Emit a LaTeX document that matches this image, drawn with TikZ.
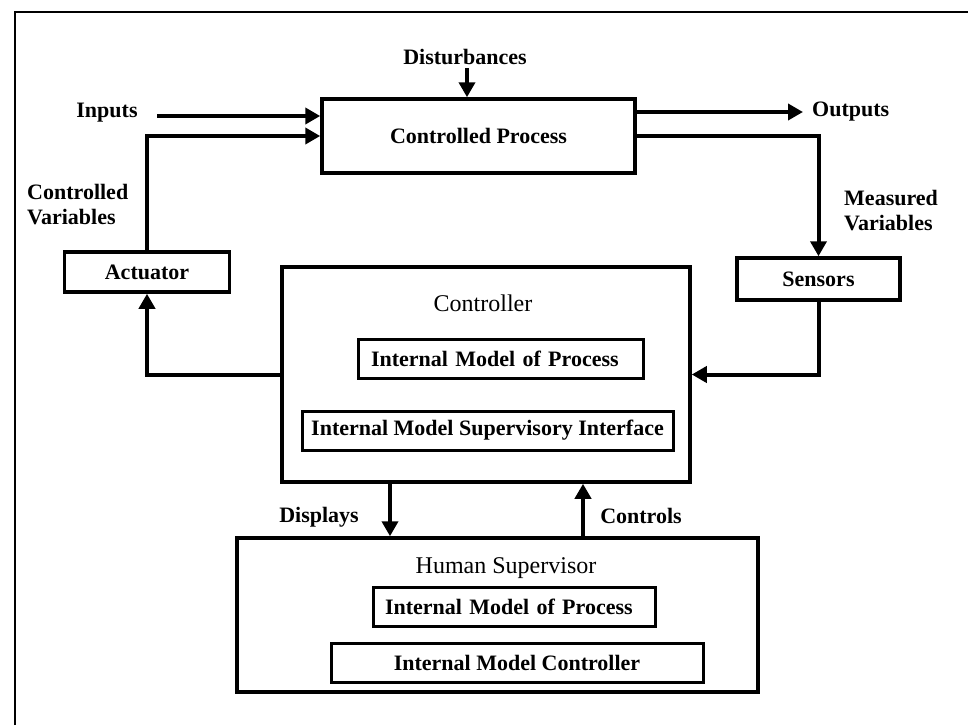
\documentclass[tikz,border=0pt]{standalone}
\usepackage{fontspec}
\setmainfont{Liberation Serif}
\usetikzlibrary{arrows.meta}
\begin{document}
\begin{tikzpicture}[x=1pt,y=-1pt,
  lbl/.style={font=\fontsize{22}{25}\selectfont\bfseries, inner sep=0pt},
  title/.style={font=\fontsize{24}{27}\selectfont, inner sep=0pt},
  blk/.style={draw, line width=3.5pt, inner sep=0pt,
    font=\fontsize{22}{25}\selectfont\bfseries},
  subblk/.style={blk, line width=3pt},
  flow/.style={line width=4pt, -{Triangle[length=15pt,width=16pt]}},
  frame/.style={line width=2.5pt}
]
\useasboundingbox (0,0) rectangle (968,725);

% outer frame (open on the right and bottom)
\draw[frame] (15,725) -- (15,12) -- (968,12);

% process loop
\node[blk, minimum width=313pt, minimum height=74pt] (procbox) at (478.5,136) {Controlled Process};
\node[blk, minimum width=165pt, minimum height=40pt] (actuator) at (147,272) {Actuator};
\node[blk, minimum width=163pt, minimum height=42pt] (sensors) at (818.5,279) {Sensors};

% controller and its internal models
\node[blk, minimum width=408pt, minimum height=215pt] (controller) at (486,374.5) {};
\node[title] (ctrltitle) at (483,303) {Controller};
\node[subblk, minimum width=285pt, minimum height=39pt, align=left, text width=259pt, inner xsep=13pt] (imp1) at (500.5,358.5) {Internal Model of Process};
\node[subblk, minimum width=371pt, minimum height=39pt] (imsi) at (487.5,430.5) {Internal Model Supervisory Interface};

% human supervisor and its internal models
\node[blk, minimum width=521pt, minimum height=154pt] (human) at (497.5,615) {};
\node[title] (humantitle) at (506,568) {Human Supervisor};
\node[subblk, minimum width=282pt, minimum height=39pt, align=left, text width=258pt, inner xsep=12pt] (imp2) at (514,606.5) {Internal Model of Process};
\node[subblk, minimum width=372pt, minimum height=39pt] (imc) at (517,662.5) {Internal Model Controller};

% signal labels
\node[lbl] (dist) at (465,57) {Disturbances};
\node[lbl] (inputs) at (107,113) {Inputs};
\node[lbl, anchor=west, inner xsep=9pt] (outputs) at (803,112) {Outputs};
\node[lbl, align=left, anchor=west] (ctrlvar) at (27,205) {Controlled\\Variables};
\node[lbl, align=left, anchor=west] (measvar) at (844,211) {Measured\\Variables};
\node[lbl] (displays) at (319,517) {Displays};
\node[lbl] (controls) at (641,516) {Controls};

\coordinate (inS) at (157,116);
\coordinate (distS) at (467,68);

% connectors
\draw[flow] (distS) -- (distS |- procbox.north);
\draw[flow] (inS) -- (inS -| procbox.west);
\draw[flow] (actuator.north) |- (procbox.west);
\draw[flow] (procbox.east |- outputs.west) -- (outputs.west);
\draw[flow] (procbox.east) -| (sensors.north);
\draw[flow] (sensors.south) |- (controller.east);
\draw[flow] (controller.west) -| (actuator.south);
\draw[flow] ([xshift=-96pt]controller.south) -- ([xshift=-107.5pt]human.north);
\draw[flow] ([xshift=85.5pt]human.north) -- ([xshift=97pt]controller.south);
\end{tikzpicture}
\end{document}
